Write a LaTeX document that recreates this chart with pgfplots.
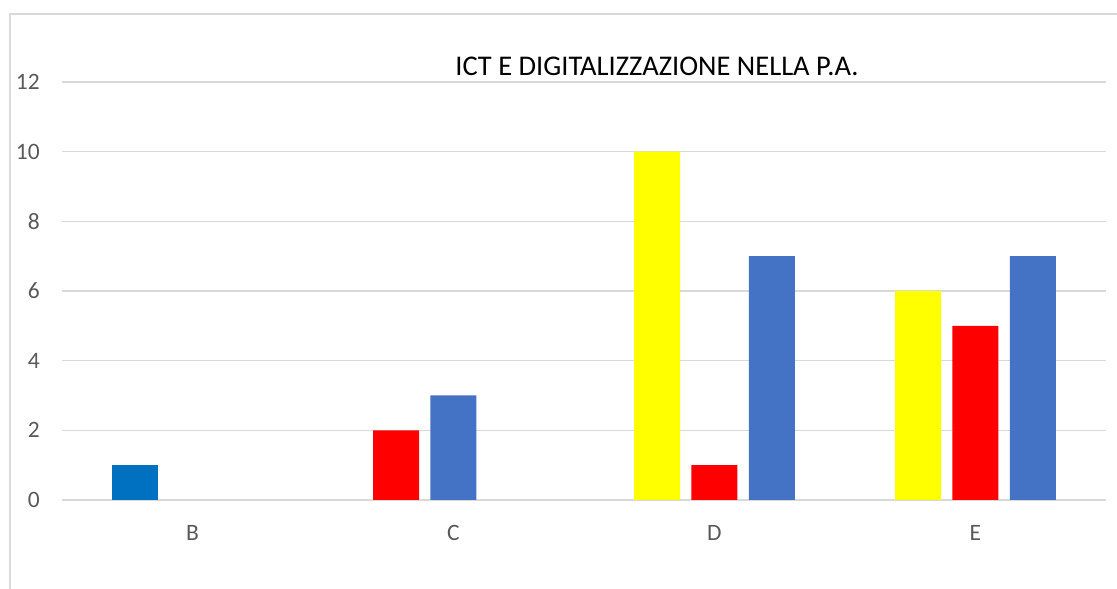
\documentclass[border=0pt]{standalone}
\usepackage{pgfplots}
\pgfplotsset{compat=1.18}
\usepackage{fontspec}
\setmainfont{Carlito}
\definecolor{gridgray}{HTML}{D9D9D9}
\definecolor{ticktext}{HTML}{595959}
\definecolor{ybar1}{HTML}{FFFF00}
\definecolor{rbar}{HTML}{FF0000}
\definecolor{bbar}{HTML}{4472C4}
\definecolor{bbar0}{HTML}{0070C0}
\begin{document}
\begin{tikzpicture}
\begin{axis}[
  at={(0pt,0pt)}, anchor=south west,
  scale only axis,
  width=1044pt, height=418pt,
  xmin=-0.5, xmax=3.5, ymin=0, ymax=12,
  xtick={0,1,2,3},
  xticklabels={B,C,D,E},
  ytick={0,2,4,6,8,10,12},
  ymajorgrids,
  major grid style={color=gridgray, line width=1.5pt},
  axis line style={draw=none},
  major tick style={draw=none},
  minor tick style={draw=none},
  ticklabel style={font=\fontsize{23.5}{27}\selectfont, text=ticktext, inner sep=0pt},
  xticklabel style={anchor=base, yshift=-41pt},
  yticklabel style={anchor=east, xshift=-22pt},
  /pgf/number format/assume math mode=true,
  clip=false,
]
\addplot[ybar, bar width=46pt, fill=ybar1, draw=none] coordinates {(1.78,10) (2.78,6)};
\addplot[ybar, bar width=46pt, fill=rbar, draw=none] coordinates {(0.78,2) (2,1) (3,5)};
\addplot[ybar, bar width=46pt, fill=bbar, draw=none] coordinates {(1,3) (2.22,7) (3.22,7)};
\addplot[ybar, bar width=46pt, fill=bbar0, draw=none] coordinates {(-0.22,1)};
\end{axis}
\node[anchor=base, inner sep=0pt, font=\fontsize{28.5}{32}\selectfont] at (595pt,424.5pt) {ICT E DIGITALIZZAZIONE NELLA P.A.};
\draw[gridgray, line width=2pt] (-52pt,-89pt) -- (-52pt,486pt) -- (1055pt,486pt);
\pgfresetboundingbox
\path[use as bounding box] (-62pt,-89pt) rectangle (1055pt,500pt);
\end{tikzpicture}
\end{document}
